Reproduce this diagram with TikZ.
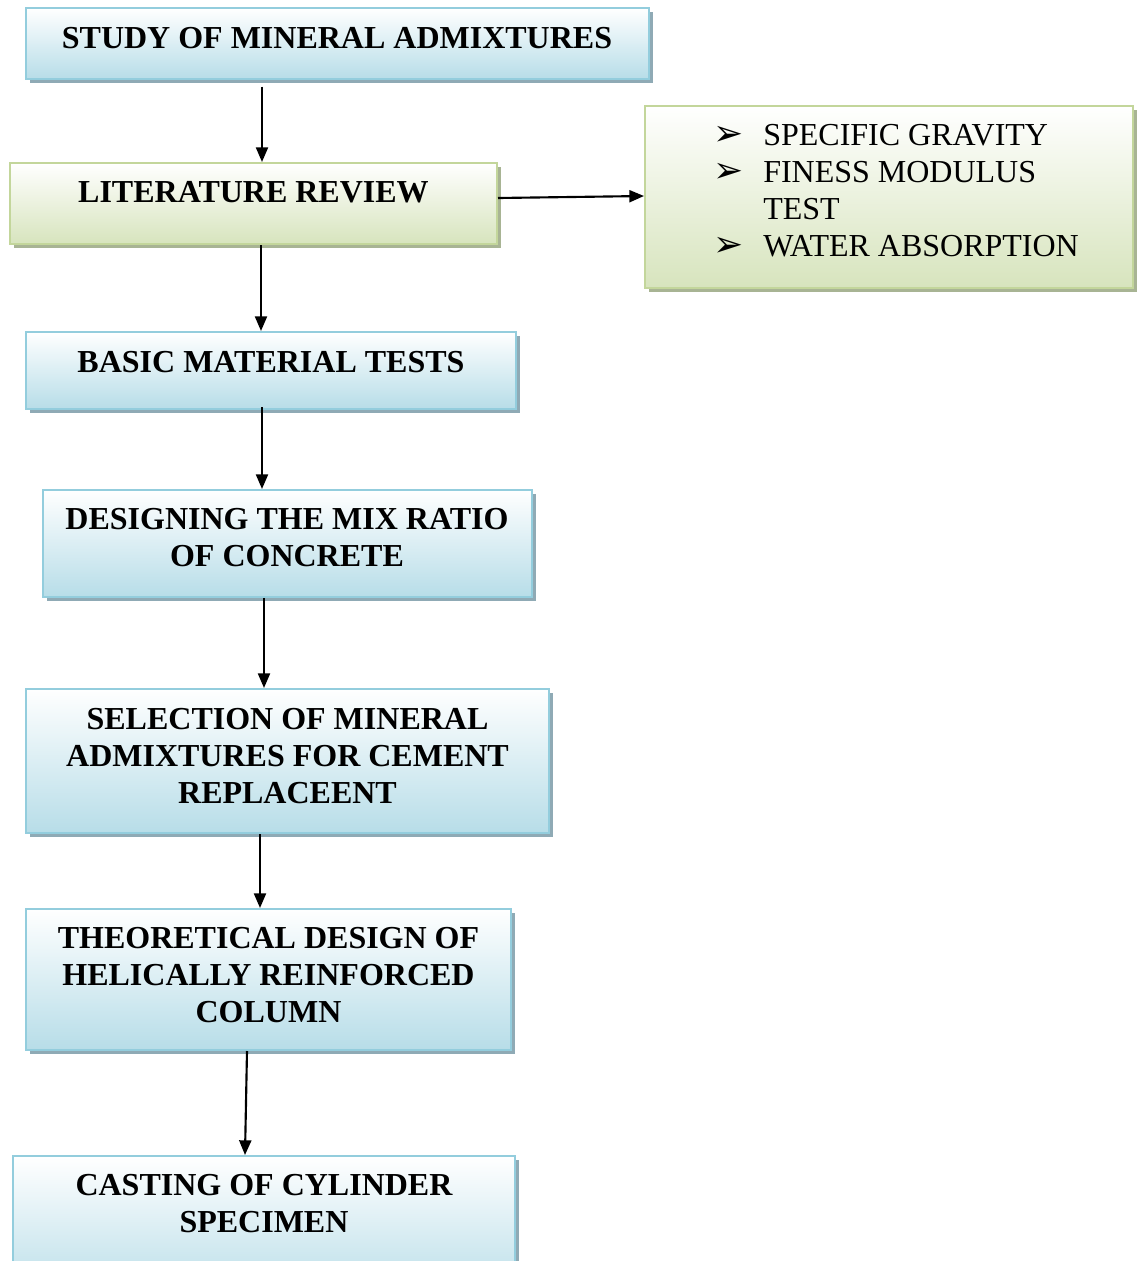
\documentclass[tikz,border=0pt]{standalone}
\usepackage{fontspec}
\setmainfont{Liberation Serif}
\newfontfamily\symfont{DejaVu Sans}
\usetikzlibrary{shadows,fit,arrows.meta}
\definecolor{bborder}{HTML}{93CDDD}
\definecolor{bfill}{HTML}{B7DDE8}
\definecolor{bshadow}{HTML}{8FAAB5}
\definecolor{gborder}{HTML}{C3D69B}
\definecolor{gfill}{HTML}{D7E4BD}
\definecolor{gshadow}{HTML}{A8B494}
\newcommand{\bulmark}{\makebox[37.5pt][l]{\smash{\symfont\fontsize{27}{27.75}\selectfont ➢}}}
\begin{document}
\begin{tikzpicture}[x=0.75pt,y=-0.75pt,
  bluebox/.style={draw=bborder, line width=1.5pt, top color=white, bottom color=bfill, inner sep=0pt,
    drop shadow={shadow xshift=3pt,shadow yshift=-3pt,fill=bshadow,opacity=1}},
  greenbox/.style={draw=gborder, line width=1.5pt, top color=white, bottom color=gfill, inner sep=0pt,
    drop shadow={shadow xshift=3pt,shadow yshift=-3pt,fill=gshadow,opacity=1}},
  txt/.style={font=\bfseries\fontsize{24}{27.75}\selectfont, align=center, inner sep=0pt},
  bul/.style={font=\fontsize{24}{27.75}\selectfont, align=left, inner sep=0pt},
  arr/.style={line width=1.6pt, -{Triangle[length=11pt,width=9pt]}}]
\useasboundingbox (0,0) rectangle (1139,1261);
% boxes
\node[bluebox, fit={(26,8) (649,79)}] (b1) {};
\node[greenbox, fit={(10,163) (497,244)}] (b2) {};
\node[greenbox, fit={(645,106) (1133,288)}] (b3) {};
\node[bluebox, fit={(26,332) (516,409)}] (b4) {};
\node[bluebox, fit={(43,490) (532,597)}] (b5) {};
\node[bluebox, fit={(26,689) (549,833)}] (b6) {};
\node[bluebox, fit={(26,909) (511,1050)}] (b7) {};
\node[bluebox, fit={(13,1156) (515,1300)}] (b8) {};
% texts
\node[txt] (t1) at (337,38) {STUDY OF MINERAL ADMIXTURES};
\node[txt] (t2) at (253.5,192) {LITERATURE REVIEW};
\node[txt] (t4) at (271,362) {BASIC MATERIAL TESTS};
\node[txt] (t5) at (287,538) {DESIGNING THE MIX RATIO\\OF CONCRETE};
\node[txt] (t6) at (287.5,756.5) {SELECTION OF MINERAL\\ADMIXTURES FOR CEMENT\\REPLACEENT};
\node[txt] (t7) at (268.5,975.5) {THEORETICAL DESIGN OF\\HELICALLY REINFORCED\\COLUMN};
\node[txt] (t8) at (264,1203.5) {CASTING OF CYLINDER\\SPECIMEN};
\node[bul, anchor=west] (t3) at (713,190.5) {%
  \bulmark SPECIFIC GRAVITY\\
  \bulmark FINESS MODULUS\\
  \makebox[37.5pt][l]{}TEST\\
  \bulmark WATER ABSORPTION};
% connectors
\draw[arr, shorten <=5pt] (b1.south -| 262,0) -- (b2.north -| 262,0);
\draw[arr] (b2.east |- 0,198) -- (b3.west |- 0,196);
\draw[arr] (b2.south -| 261,0) -- (b4.north -| 261,0);
\draw[arr, shorten <=-2pt] (b4.south -| 262,0) -- (b5.north -| 262,0);
\draw[arr] (b5.south -| 264,0) -- (b6.north -| 264,0);
\draw[arr] (b6.south -| 260,0) -- (b7.north -| 260,0);
\draw[arr] (b7.south -| 247,0) -- (b8.north -| 245,0);
\end{tikzpicture}
\end{document}
